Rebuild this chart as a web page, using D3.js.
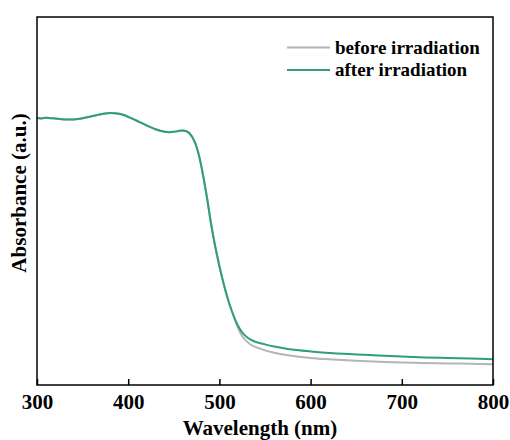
<!DOCTYPE html>
<html>
<head>
<meta charset="utf-8">
<script src="https://cdn.jsdelivr.net/npm/d3@7"></script>
<style>
  body { margin: 0; background: #fff; }
  svg text { font-family: "Liberation Serif", "Times New Roman", serif; font-weight: bold; fill: #000; }
</style>
</head>
<body>
<svg id="chart"></svg>
<script>
// wavelength (nm)
var wavelengths = [300,305,310,315,320,325,330,335,340,345,350,355,360,365,370,375,380,385,390,395,
  400,405,410,415,420,425,430,435,440,445,450,455,460,463,466,469,472,475,478,481,484,487,490,493,496,499,
  502,505,508,511,514,517,520,525,530,535,540,550,560,575,600,625,650,675,700,725,750,775,800];
// absorbance (a.u.), after irradiation
var afterValues = [1.335,1.333,1.336,1.334,1.333,1.330,1.328,1.327,1.328,1.330,1.334,1.339,1.344,1.349,1.354,1.358,1.360,1.359,1.356,1.350,
  1.341,1.331,1.320,1.309,1.298,1.288,1.279,1.271,1.266,1.264,1.266,1.270,1.273,1.270,1.263,1.248,1.225,1.190,1.140,1.075,1.000,0.920,0.830,0.750,0.680,0.615,
  0.555,0.500,0.450,0.405,0.365,0.330,0.300,0.263,0.240,0.225,0.215,0.203,0.192,0.180,0.168,0.159,0.153,0.147,0.142,0.138,0.135,0.132,0.129];
// absorbance (a.u.), before irradiation
var beforeValues = [1.335,1.333,1.336,1.334,1.333,1.330,1.328,1.327,1.328,1.330,1.334,1.339,1.344,1.349,1.354,1.358,1.360,1.359,1.356,1.350,
  1.341,1.331,1.320,1.309,1.298,1.288,1.279,1.271,1.266,1.264,1.266,1.270,1.273,1.270,1.263,1.248,1.225,1.190,1.140,1.075,1.000,0.920,0.830,0.750,0.680,0.615,
  0.555,0.500,0.450,0.405,0.365,0.327,0.290,0.245,0.218,0.200,0.189,0.173,0.161,0.149,0.135,0.127,0.121,0.116,0.112,0.110,0.108,0.106,0.104];
var xTicks = [300,400,500,600,700,800];
var seriesNames = ["before irradiation", "after irradiation"];
var seriesColors = ["#b4b4b4", "#2f9f78"];

var width = 510, height = 440;
var margin = {top: 17, right: 17, bottom: 55, left: 37};
var w = width - margin.left - margin.right;
var h = height - margin.top - margin.bottom;

var svg = d3.select("#chart").attr("width", width).attr("height", height);
var g = svg.append("g").attr("transform", "translate(" + margin.left + "," + margin.top + ")");

var x = d3.scaleLinear().domain([300, 800]).range([0, w]);
var y = d3.scaleLinear().domain([0, 1.84]).range([h, 0]);

var series = [beforeValues, afterValues].map(function(vals, i) {
  return { name: seriesNames[i], color: seriesColors[i],
    points: wavelengths.map(function(wl, j) { return [wl, vals[j]]; }) };
});

var line = d3.line()
  .x(function(d) { return x(d[0]); })
  .y(function(d) { return y(d[1]); })
  .curve(d3.curveCatmullRom);

g.selectAll(".series")
  .data(series)
  .enter().append("path")
  .attr("class", "series")
  .attr("fill", "none")
  .attr("stroke", function(d) { return d.color; })
  .attr("stroke-width", 2)
  .attr("d", function(d) { return line(d.points); });

// x axis, ticks pointing inward
var xAxis = d3.axisBottom(x).tickValues(xTicks).tickSizeInner(-6).tickSizeOuter(0).tickPadding(9);
var ax = g.append("g")
  .attr("transform", "translate(0," + h + ")")
  .call(xAxis);
ax.select(".domain").remove();
ax.selectAll(".tick line").attr("stroke", "#000").attr("stroke-width", 1.5);
ax.selectAll("text").style("font-size", "21px");

// frame
g.append("rect")
  .attr("width", w).attr("height", h)
  .attr("fill", "none").attr("stroke", "#000").attr("stroke-width", 1.5);

// axis titles
svg.append("text")
  .attr("x", 260).attr("y", 435)
  .attr("text-anchor", "middle")
  .style("font-size", "21px")
  .text("Wavelength (nm)");
svg.append("text")
  .attr("transform", "translate(26," + 193 + ") rotate(-90)")
  .attr("text-anchor", "middle")
  .style("font-size", "21px")
  .text("Absorbance (a.u.)");

// legend
var legend = svg.append("g").attr("transform", "translate(287,53.5)");
var items = legend.selectAll(".item")
  .data(series)
  .enter().append("g")
  .attr("transform", function(d, i) { return "translate(0," + (i * 22.5) + ")"; });
items.append("line")
  .attr("x1", 0).attr("x2", 43).attr("y1", -6).attr("y2", -6)
  .attr("stroke", function(d) { return d.color; })
  .attr("stroke-width", 2);
items.append("text")
  .attr("x", 48).attr("y", 0)
  .style("font-size", "19px")
  .text(function(d) { return d.name; });
</script>
</body>
</html>
